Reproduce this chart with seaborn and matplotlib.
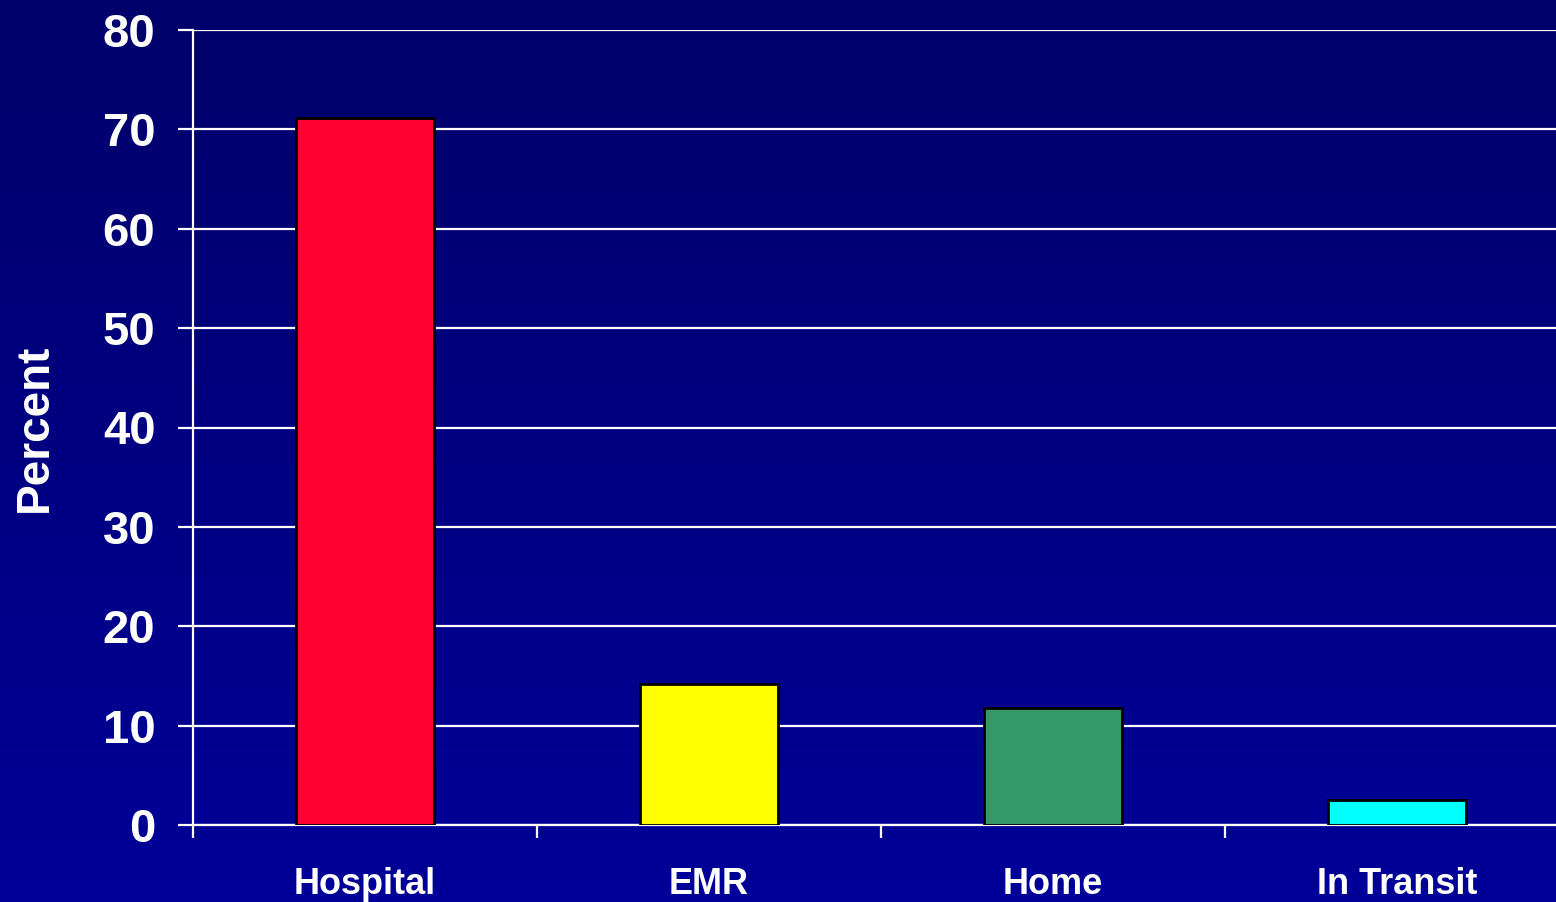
import numpy as np
import pandas as pd
import matplotlib
matplotlib.use("Agg")
import matplotlib.pyplot as plt
from matplotlib.colors import LinearSegmentedColormap
import seaborn as sns

# Share of events by location (percent)
locations = ["Hospital", "EMR", "Home", "In Transit"]
percent = [71.1, 14.2, 11.8, 2.5]
bar_colors = ["#FF0033", "#FFFF00", "#339966", "#00FFFF"]
y_ticks = [0, 10, 20, 30, 40, 50, 60, 70, 80]

df = pd.DataFrame({"location": locations, "percent": percent})

sns.set_theme(style="white")
plt.rcParams["font.family"] = ["Liberation Sans", "DejaVu Sans"]
plt.rcParams["font.weight"] = "bold"

fig = plt.figure(figsize=(15.56, 9.02), dpi=100)

# Vertical navy gradient behind everything
bg = fig.add_axes([0, 0, 1, 1], zorder=-10)
grad = np.linspace(0, 1, 256).reshape(-1, 1)
cmap = LinearSegmentedColormap.from_list("navy", ["#00006A", "#000099"])
bg.imshow(grad, aspect="auto", extent=[0, 1, 0, 1], cmap=cmap, origin="upper")
bg.set_axis_off()

ax = fig.add_axes([193 / 1556, 1 - 825 / 902, 1 - 193 / 1556, (825 - 30) / 902])
ax.patch.set_alpha(0)

sns.barplot(data=df, x="location", y="percent", hue="location",
            palette=bar_colors, saturation=1, legend=False, width=0.4,
            edgecolor="black", linewidth=2, ax=ax, zorder=3)

ax.set_yticks(y_ticks)
ax.set_yticklabels([str(v) for v in y_ticks], fontsize=34, fontweight="bold", color="white")
ax.yaxis.grid(True, color="white", linewidth=1.6, zorder=1)
ax.set_axisbelow(True)

# Category boundaries carry the tick marks; labels sit at the centers
ax.set_xticks([-0.5, 0.5, 1.5, 2.5, 3.5])
ax.set_xticklabels([])
ax.set_xticks(range(len(locations)), minor=True)
ax.set_xticklabels(locations, minor=True, fontsize=26, fontweight="bold", color="white")
ax.tick_params(axis="x", which="major", length=9, width=1.6, color="white", direction="out", bottom=True)
ax.tick_params(axis="x", which="minor", length=0, pad=30)
ax.tick_params(axis="y", length=11, width=1.6, color="white", direction="out", left=True, pad=16)

ax.set_ylim(0, 80)
ax.set_xlim(-0.5, -0.5 + (1556 - 193) / 344)

ax.set_xlabel("")
ax.set_ylabel("Percent", fontsize=33, fontweight="bold", color="white", labelpad=33)

for side in ["top", "right"]:
    ax.spines[side].set_visible(False)
for side in ["left", "bottom"]:
    ax.spines[side].set_color("white")
    ax.spines[side].set_linewidth(1.6)

fig.savefig("out.png", dpi=100)
